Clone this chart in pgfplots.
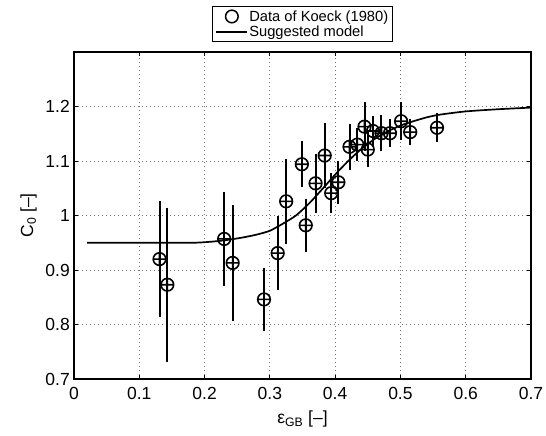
\documentclass[border=0pt]{standalone}
\usepackage{pgfplots}
\pgfplotsset{compat=1.18}
\usepackage{pgfplotstable}
\usepackage{fontspec}
\setmainfont{Liberation Sans}

\newcommand\legfont{\fontsize{14.7bp}{17bp}\selectfont}
\newcommand\axfont{\fontsize{17.5bp}{21bp}\selectfont}

% Koeck (1980): void fraction, distribution parameter, half error
\pgfplotstableread{
x      y      e
0.131  0.920  0.100
0.143  0.873  0.135
0.230  0.957  0.080
0.243  0.913  0.100
0.291  0.846  0.051
0.312  0.931  0.061
0.325  1.026  0.071
0.349  1.094  0.036
0.355  0.982  0.042
0.370  1.059  0.048
0.384  1.110  0.053
0.394  1.041  0.030
0.405  1.061  0.033
0.422  1.126  0.036
0.434  1.130  0.024
0.445  1.163  0.038
0.450  1.121  0.025
0.458  1.155  0.022
0.471  1.151  0.027
0.484  1.151  0.019
0.501  1.173  0.028
0.515  1.153  0.017
0.556  1.161  0.020
}\koeck

% suggested model, tabulated
\pgfplotstableread{
x     y
0.02  0.950
0.10  0.950
0.18  0.950
0.20  0.951
0.22  0.953
0.24  0.956
0.26  0.960
0.28  0.965
0.30  0.972
0.32  0.985
0.34  1.000
0.36  1.022
0.38  1.048
0.40  1.075
0.42  1.100
0.44  1.122
0.46  1.140
0.48  1.154
0.50  1.165
0.52  1.173
0.54  1.180
0.56  1.185
0.60  1.191
0.65  1.195
0.70  1.198
}\model

\begin{document}
\begin{tikzpicture}
\begin{axis}[
  name=ax,
  scale only axis,
  width=457bp, height=327bp,
  xmin=0, xmax=0.7, ymin=0.7, ymax=1.3,
  xtick={0,0.1,0.2,0.3,0.4,0.5,0.6,0.7},
  ytick={0.7,0.8,0.9,1.0,1.1,1.2},
  tick align=inside,
  major tick length=4bp,
  axis line style={line width=1.1bp},
  tick style={black, line width=0.9bp},
  grid=major,
  major grid style={black!55, line width=0.8bp, dash pattern=on 1bp off 3bp},
  /pgf/number format/assume math mode=true,
  ticklabel style={font=\axfont, inner sep=0pt},
  xticklabel style={anchor=north, yshift=-8bp},
  yticklabel style={anchor=east, xshift=-4bp},
  xlabel={ε\textsubscript{GB} [–]},
  ylabel={C\textsubscript{0} [–]},
  every axis x label/.style={at={(axis description cs:0.5,0)}, anchor=north,
    yshift=-32bp, inner sep=0pt, font=\axfont},
  every axis y label/.style={at={(axis description cs:-0.081,0.5)}, rotate=90,
    anchor=south, inner sep=0pt, font=\axfont},
  legend style={at={(0.5,1.03)}, anchor=south, draw=black, line width=0.8bp,
    font=\legfont, inner xsep=3bp, inner ysep=2.5bp, row sep=1bp,
    nodes={inner sep=1.2bp},
    /tikz/every even column/.append style={column sep=1bp}},
  legend cell align=left,
]
\addplot[black, only marks, mark=oplus, mark size=6.3bp,
  mark options={line width=1.6bp},
  legend image code/.code={
    \path[draw=none] (0bp,0bp) -- (31bp,0bp);
    \draw[black, line width=1.5bp] (15.5bp,0bp) circle[radius=6.3bp];},
  error bars/.cd, y dir=both, y explicit,
  error bar style={line width=2bp, black},
  error mark options={line width=2bp, mark size=3.5bp, black}]
  table[x=x, y=y, y error=e] {\koeck};
\addlegendentry{\legfont Data of Koeck (1980)}
\addplot[black, line width=1.7bp, smooth, tension=0.4,
  legend image code/.code={
    \draw[black, line width=1.5bp] (0bp,0bp) -- (31bp,0bp);}]
  table[x=x, y=y] {\model};
\addlegendentry{\legfont Suggested model}
\end{axis}
\pgfresetboundingbox
\path ([shift={(-74bp,-57bp)}]ax.south west) rectangle ([shift={(15bp,52bp)}]ax.north east);
\end{tikzpicture}
\end{document}
